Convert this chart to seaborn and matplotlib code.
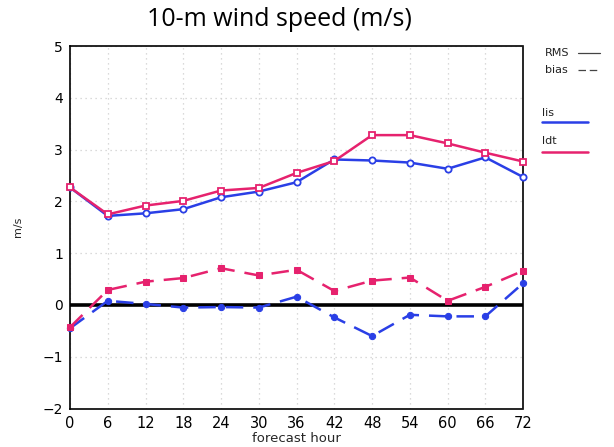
import matplotlib
matplotlib.use("Agg")
import matplotlib.pyplot as plt
import seaborn as sns
import pandas as pd
from matplotlib.lines import Line2D

hours = [0, 6, 12, 18, 24, 30, 36, 42, 48, 54, 60, 66, 72]
rms_lis = [2.27, 1.72, 1.77, 1.85, 2.08, 2.19, 2.37, 2.81, 2.79, 2.75, 2.63, 2.85, 2.47]
rms_ldt = [2.27, 1.75, 1.92, 2.01, 2.21, 2.26, 2.55, 2.78, 3.28, 3.28, 3.12, 2.94, 2.77]
bias_lis = [-0.45, 0.08, 0.02, -0.05, -0.04, -0.05, 0.16, -0.24, -0.60, -0.19, -0.22, -0.22, 0.42]
bias_ldt = [-0.43, 0.29, 0.45, 0.52, 0.71, 0.57, 0.68, 0.27, 0.47, 0.53, 0.08, 0.35, 0.66]
yticks = [-2, -1, 0, 1, 2, 3, 4, 5]
xticks = hours

blue = "#2a3fe6"
pink = "#e6226e"

sns.set_style("white")
plt.rcParams['font.family'] = ['DejaVu Sans']

fig = plt.figure(figsize=(6.14, 4.47), dpi=100)
ax = fig.add_axes([0.114, 0.086, 0.738, 0.811])

df = pd.DataFrame({"hour": hours, "rms_lis": rms_lis, "rms_ldt": rms_ldt,
                   "bias_lis": bias_lis, "bias_ldt": bias_ldt})

ax.axhline(0, color="black", lw=2.6, zorder=3)

sns.lineplot(data=df, x="hour", y="rms_lis", ax=ax, color=blue, lw=1.8,
             marker="o", markersize=4.5, markerfacecolor="white",
             markeredgecolor=blue, markeredgewidth=1.3, zorder=4, clip_on=False)
sns.lineplot(data=df, x="hour", y="rms_ldt", ax=ax, color=pink, lw=1.8,
             marker="s", markersize=4.5, markerfacecolor="white",
             markeredgecolor=pink, markeredgewidth=1.3, zorder=5, clip_on=False)
sns.lineplot(data=df, x="hour", y="bias_lis", ax=ax, color=blue, lw=1.8,
             marker="o", markersize=4.5, markerfacecolor=blue,
             markeredgecolor=blue, zorder=4, clip_on=False)
sns.lineplot(data=df, x="hour", y="bias_ldt", ax=ax, color=pink, lw=1.8,
             marker="s", markersize=4.5, markerfacecolor=pink,
             markeredgecolor=pink, zorder=5, clip_on=False)
for l in ax.lines[-2:]:
    l.set_dashes([7, 4])

ax.set_xlim(0, 72)
ax.set_ylim(-2, 5)
ax.set_xticks(xticks)
ax.set_yticks(yticks)
ax.set_xticklabels([str(h) for h in xticks], fontsize=10.5)
ax.set_yticklabels(["\u22122" if v == -2 else ("\u22121" if v == -1 else str(v)) for v in yticks], fontsize=10)
ax.tick_params(axis="both", direction="out", length=4, width=0.8, pad=1, colors="black")
ax.grid(True, color="#cfcfcf", linestyle=(0, (1, 3)), lw=0.9)
for s in ax.spines.values():
    s.set_linestyle((0, (3, 1)))
    s.set_linewidth(1.2)
    s.set_color("black")
ax.set_xlabel("")
ax.set_ylabel("m/s", fontsize=8, labelpad=14)
fig.text(0.482, 0.018, "forecast hour", ha="center", va="center", fontsize=9.5)

fig.text(0.455, 0.957, "10-m wind speed (m/s)", ha="center", va="center",
         fontsize=18, color="black", family=["Open Sans", "DejaVu Sans"])

# legend decoration
fig.text(0.888, 0.881, "RMS", fontsize=8, ha="left", va="center", color="#222222")
fig.add_artist(Line2D([0.941, 0.977], [0.881, 0.881], color="#444444", lw=0.9))
fig.text(0.888, 0.843, "bias", fontsize=8, ha="left", va="center", color="#222222")
fig.add_artist(Line2D([0.941, 0.977], [0.843, 0.843], color="#444444", lw=0.9, dashes=[6, 3]))
fig.text(0.883, 0.747, "lis", fontsize=8, ha="left", va="center", color="#222222")
fig.add_artist(Line2D([0.883, 0.958], [0.728, 0.728], color=blue, lw=1.8))
fig.text(0.883, 0.684, "ldt", fontsize=8, ha="left", va="center", color="#222222")
fig.add_artist(Line2D([0.883, 0.958], [0.660, 0.660], color=pink, lw=1.8))

fig.savefig("out.png", dpi=100)
